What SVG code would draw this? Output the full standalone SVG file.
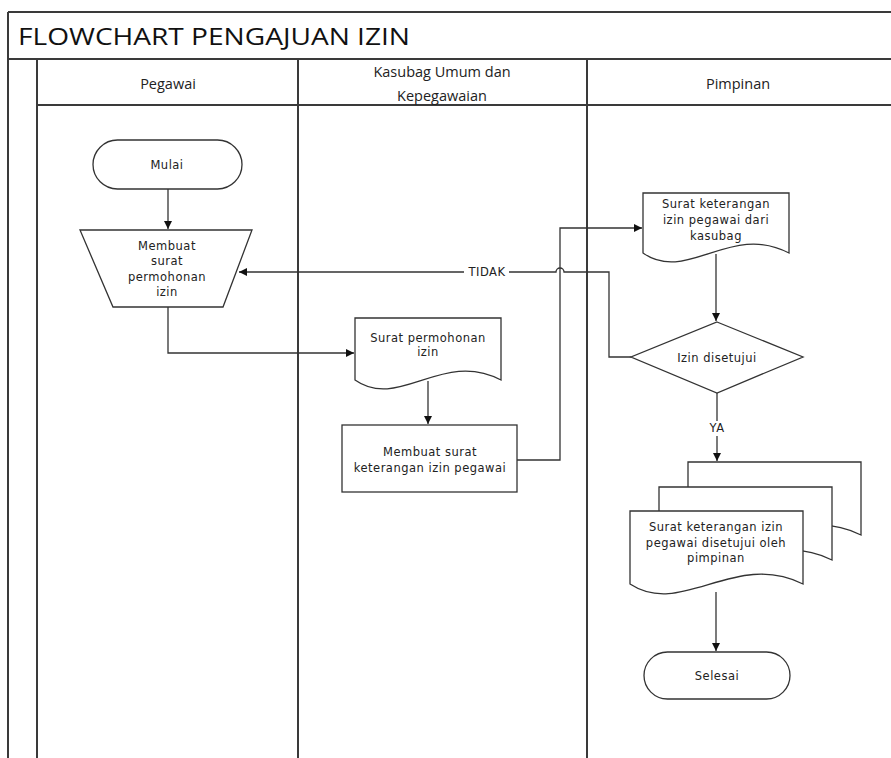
<svg xmlns="http://www.w3.org/2000/svg" width="891" height="758" viewBox="0 0 891 758">
<style>
.frame{stroke:#3a3a3a;stroke-width:2;fill:none}
.shape{fill:#fff;stroke:#333;stroke-width:1.3}
.conn{fill:none;stroke:#333;stroke-width:1.3}
.lbl{font-family:"DejaVu Sans",Verdana,sans-serif;font-size:11.5px;letter-spacing:0.5px;fill:#222;text-anchor:middle}
.hdr{font-family:"Open Sans","Liberation Sans",sans-serif;font-size:14.5px;fill:#222;text-anchor:middle}
.title{font-family:"Open Sans","Liberation Sans",sans-serif;font-size:24px;fill:#111}
</style>
<defs>
<marker id="arr" viewBox="0 0 10 10" refX="10" refY="5" markerWidth="8" markerHeight="8" markerUnits="userSpaceOnUse" orient="auto">
<path d="M0,0 L10,5 L0,10 Z" fill="#111"/>
</marker>
</defs>
<rect width="891" height="758" fill="#fff"/>
<g id="frame">
<line class="frame" x1="8" y1="12" x2="891" y2="12"/>
<line class="frame" x1="8" y1="12" x2="8" y2="758"/>
<line class="frame" x1="8" y1="59" x2="891" y2="59"/>
<line class="frame" x1="37" y1="59" x2="37" y2="758"/>
<line class="frame" x1="37" y1="105" x2="891" y2="105"/>
<line class="frame" x1="298" y1="59" x2="298" y2="758"/>
<line class="frame" x1="587" y1="59" x2="587" y2="758"/>
<text class="title" x="18" y="45" textLength="392" lengthAdjust="spacingAndGlyphs">FLOWCHART PENGAJUAN IZIN</text>
<text class="hdr" x="168" y="89">Pegawai</text>
<text class="hdr" x="442" y="77">Kasubag Umum dan</text>
<text class="hdr" x="442" y="101">Kepegawaian</text>
<text class="hdr" x="738" y="89">Pimpinan</text>
</g>
<g id="connectors">
<path class="conn" d="M168,189 V229" marker-end="url(#arr)"/>
<path class="conn" d="M168,307 V353 H354" marker-end="url(#arr)"/>
<path class="conn" d="M428,381 V424" marker-end="url(#arr)"/>
<path class="conn" d="M517,460 H560 V228 H642" marker-end="url(#arr)"/>
<path class="conn" d="M716,254 V321" marker-end="url(#arr)"/>
<path class="conn" d="M631,357 H609 V272 H564 A4,4 0 0 0 556,272 H239" marker-end="url(#arr)"/>
<path class="conn" d="M717,393 V461" marker-end="url(#arr)"/>
<path class="conn" d="M716,592 V651" marker-end="url(#arr)"/>
<rect x="464" y="264" width="45" height="15" fill="#fff"/>
<text class="lbl" x="487" y="276">TIDAK</text>
<rect x="705" y="421" width="24" height="15" fill="#fff"/>
<text class="lbl" x="717" y="432">YA</text>
</g>
<g id="mulai">
<rect class="shape" x="93" y="140" width="149" height="49" rx="24.5"/>
<text class="lbl" x="167" y="169">Mulai</text>
</g>
<g id="membuat-surat-permohonan">
<path class="shape" d="M80,230 H252 L223,307 H113 Z"/>
<text class="lbl" x="167" y="250">Membuat</text>
<text class="lbl" x="167" y="265">surat</text>
<text class="lbl" x="167" y="281">permohonan</text>
<text class="lbl" x="167" y="296">izin</text>
</g>
<g id="surat-permohonan">
<path class="shape" d="M355,318 H501 V380 C442.6,349 398.8,411 355,380 Z"/>
<text class="lbl" x="428" y="342">Surat permohonan</text>
<text class="lbl" x="428" y="356">izin</text>
</g>
<g id="membuat-surat-keterangan">
<rect class="shape" x="342" y="425" width="175" height="67"/>
<text class="lbl" x="430" y="456">Membuat surat</text>
<text class="lbl" x="430" y="472">keterangan izin pegawai</text>
</g>
<g id="surat-keterangan-kasubag">
<path class="shape" d="M643,193 H789 V253 C730.6,222 686.8,284 643,253 Z"/>
<text class="lbl" x="716" y="208">Surat keterangan</text>
<text class="lbl" x="716" y="224">izin pegawai dari</text>
<text class="lbl" x="716" y="240">kasubag</text>
</g>
<g id="izin-disetujui">
<path class="shape" d="M717,322 L803,357 L717,393 L631,357 Z"/>
<text class="lbl" x="717" y="362">Izin disetujui</text>
</g>
<g id="surat-disetujui">
<path class="shape" d="M688,462 H861 V535 C792.2,501 740.1,569 688,535 Z"/>
<path class="shape" d="M659,487 H832 V560 C763.2,526 711.1,594 659,560 Z"/>
<path class="shape" d="M630,511 H803 V584 C734.2,550 682.1,618 630,584 Z"/>
<text class="lbl" x="716" y="531">Surat keterangan izin</text>
<text class="lbl" x="716" y="547">pegawai disetujui oleh</text>
<text class="lbl" x="716" y="562">pimpinan</text>
</g>
<g id="selesai">
<rect class="shape" x="644" y="652" width="146" height="47" rx="23.5"/>
<text class="lbl" x="717" y="680">Selesai</text>
</g>
</svg>
